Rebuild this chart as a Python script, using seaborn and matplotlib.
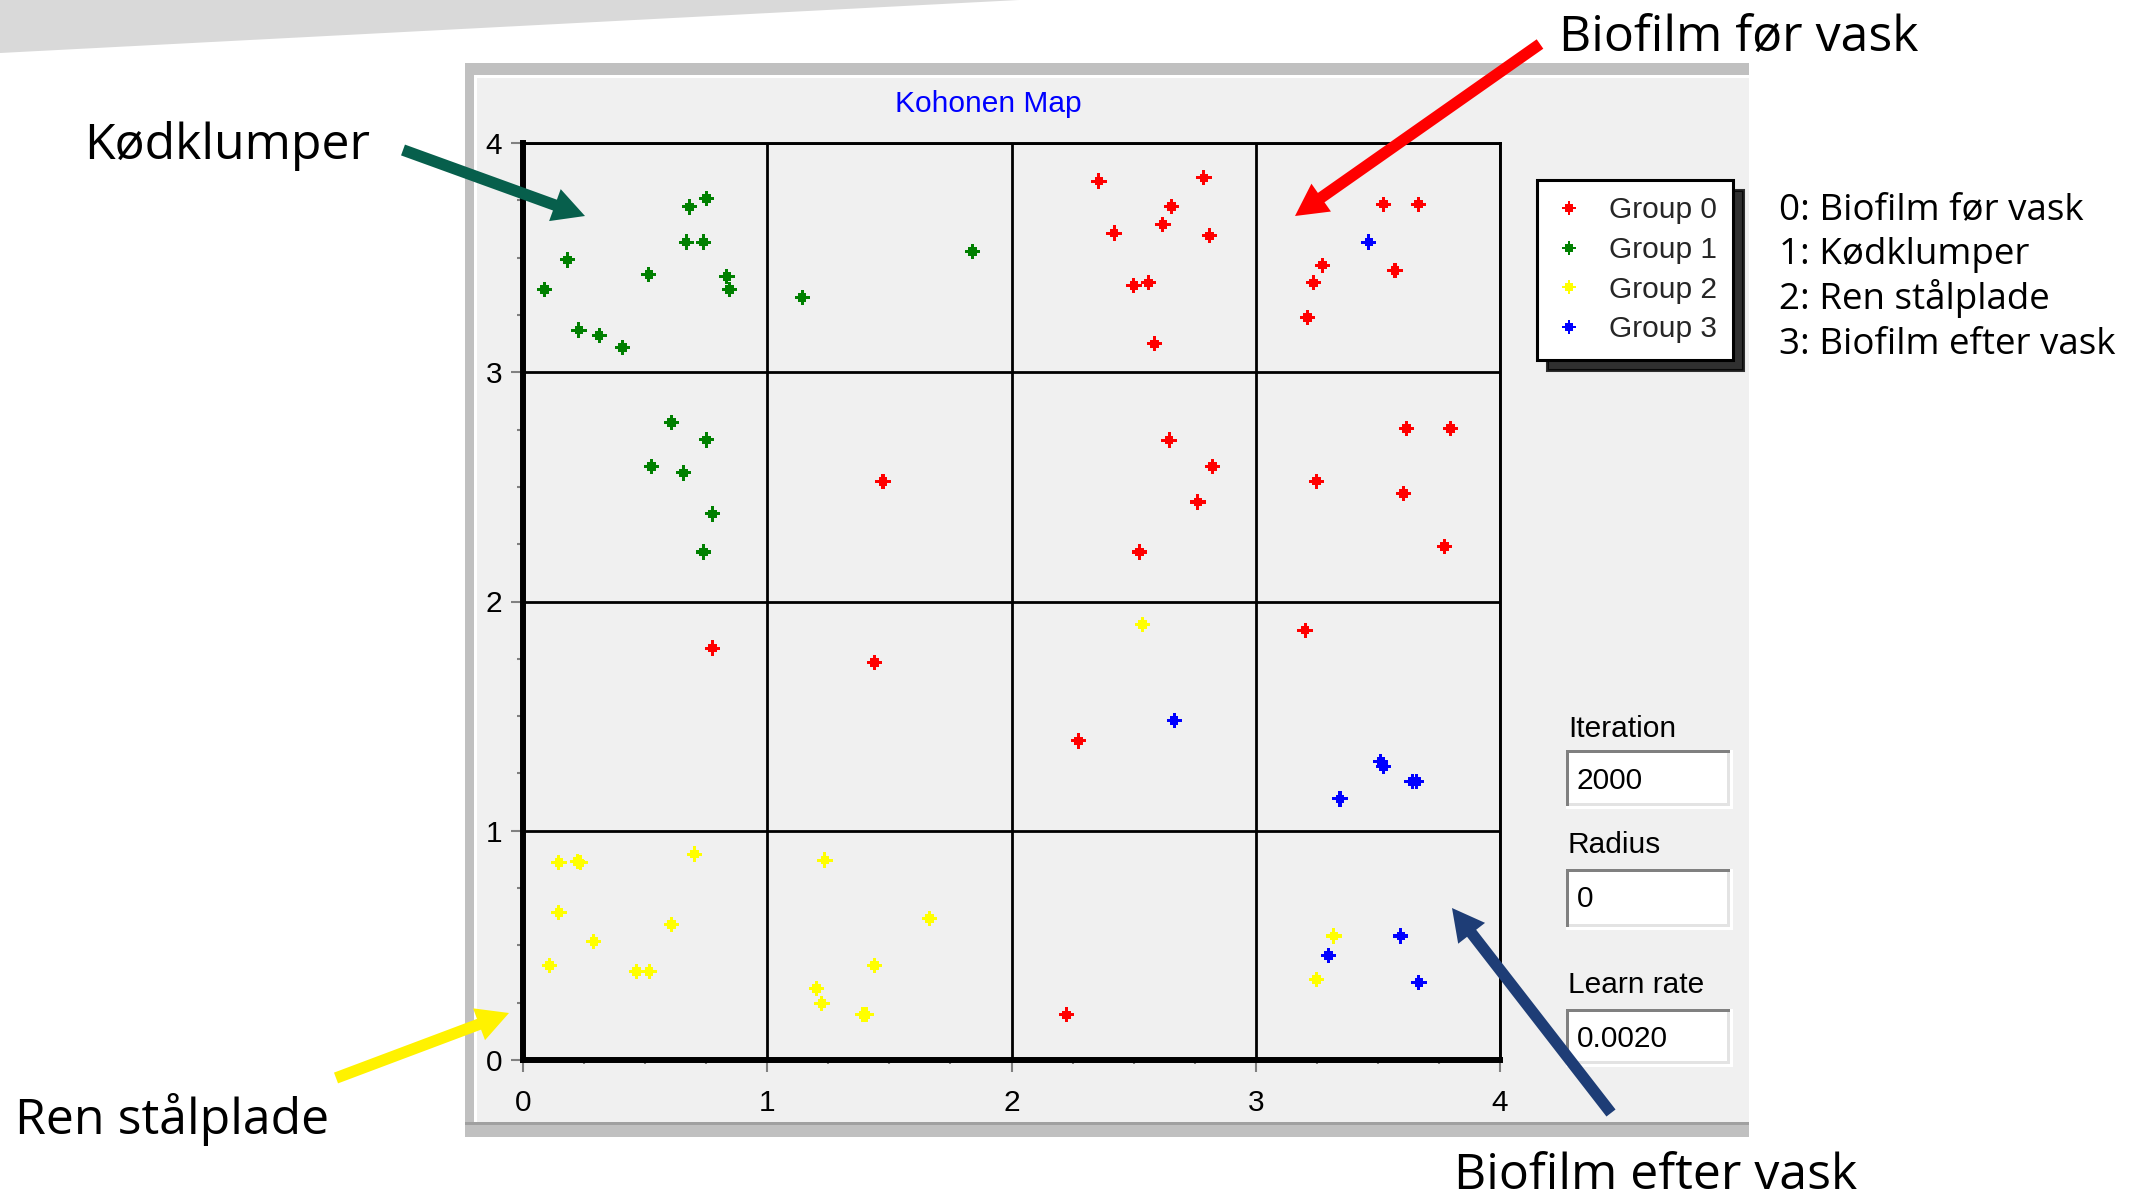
import matplotlib
matplotlib.use("Agg")
import numpy as np
import pandas as pd
import matplotlib.pyplot as plt
import seaborn as sns
from matplotlib.patches import Polygon, Rectangle, FancyArrow
from matplotlib.lines import Line2D
from matplotlib.ticker import MultipleLocator, FixedLocator

# ---------------- data ----------------
group_names = ["Group 0", "Group 1", "Group 2", "Group 3"]
group_colors = ["#ff0000", "#008000", "#ffff00", "#0000ff"]
group_descriptions = ["0: Biofilm før vask", "1: Kødklumper",
                      "2: Ren stålplade", "3: Biofilm efter vask"]

group0_x = [2.358, 2.788, 2.656, 2.620, 2.420, 2.811, 2.501, 2.561, 2.585,
            3.523, 3.667, 3.273, 3.570, 3.237, 3.213,
            2.645, 2.823, 2.763, 2.525,
            3.617, 3.797, 3.249, 3.605, 3.772,
            1.474, 0.776, 1.439, 2.274, 3.202, 2.225]
group0_y = [3.834, 3.848, 3.722, 3.644, 3.607, 3.595, 3.379, 3.390, 3.124,
            3.733, 3.733, 3.467, 3.443, 3.390, 3.239,
            2.704, 2.588, 2.434, 2.216,
            2.754, 2.754, 2.525, 2.472, 2.241,
            2.524, 1.797, 1.734, 1.392, 1.875, 0.197]

group1_x = [0.752, 0.681, 0.668, 0.739, 0.182, 0.515, 0.835, 0.845, 0.087,
            0.229, 0.312, 0.408, 1.143, 1.841,
            0.608, 0.751, 0.526, 0.657, 0.776, 0.739]
group1_y = [3.758, 3.721, 3.568, 3.568, 3.490, 3.427, 3.417, 3.362, 3.362,
            3.184, 3.161, 3.108, 3.326, 3.527,
            2.781, 2.705, 2.588, 2.561, 2.382, 2.216]

group2_x = [0.147, 0.224, 0.234, 0.703, 0.147, 0.608, 0.290, 0.109, 0.465, 0.516,
            1.236, 1.665, 1.439, 1.201, 1.224, 1.392, 1.405,
            2.536, 3.320, 3.249]
group2_y = [0.861, 0.866, 0.860, 0.898, 0.644, 0.592, 0.516, 0.412, 0.387, 0.387,
            0.872, 0.617, 0.412, 0.311, 0.247, 0.197, 0.197,
            1.899, 0.541, 0.350]

group3_x = [3.463, 2.666, 3.512, 3.524, 3.640, 3.658, 3.345, 3.594, 3.297, 3.668]
group3_y = [3.568, 1.481, 1.302, 1.280, 1.215, 1.215, 1.139, 0.541, 0.456, 0.338]

tick_values = [0, 1, 2, 3, 4]
chart_title = "Kohonen Map"
control_labels = ["Iteration", "Radius", "Learn rate"]
control_values = ["2000", "0", "0.0020"]
callouts = ["Kødklumper", "Biofilm før vask", "Ren stålplade", "Biofilm efter vask"]

# ---------------- figure ----------------
W, H = 2131, 1200
sns.set_style("white")
plt.rcParams["font.family"] = ["Liberation Sans", "DejaVu Sans"]

fig = plt.figure(figsize=(W / 100, H / 100), dpi=100)
fig.patch.set_facecolor("white")


def fx(x):
    return x / W


def fy(y):
    return 1 - y / H


# background overlay in pixel coordinates
bg = fig.add_axes([0, 0, 1, 1], zorder=0)
bg.set_xlim(0, W)
bg.set_ylim(H, 0)
bg.axis("off")

bg.add_patch(Polygon([(0, 0), (1019, 0), (0, 53)], closed=True,
                     facecolor="#d9d9d9", edgecolor="none"))
# window panel
bg.add_patch(Rectangle((465, 63), 1284, 1074, facecolor="#c0c0c0", edgecolor="none"))
bg.add_patch(Rectangle((474, 75), 1275, 1047, facecolor="white", edgecolor="none"))
bg.add_patch(Rectangle((477, 78), 1272, 1044, facecolor="#f0f0f0", edgecolor="none"))
bg.add_patch(Rectangle((465, 1122), 1284, 3, facecolor="#a0a0a0", edgecolor="none"))

# edit controls
label_base = [737, 853, 993]
boxes = [(750, 806), (869, 927), (1009, 1064)]
value_base = [789, 907, 1047]
for lab, val, lb, (y0, y1), vb in zip(control_labels, control_values,
                                      label_base, boxes, value_base):
    bx0, bx1 = 1566, 1730
    bg.add_patch(Rectangle((bx0, y0), bx1 - bx0 + 3, y1 - y0 + 3,
                           facecolor="white", edgecolor="none"))
    bg.add_patch(Rectangle((bx0, y0), bx1 - bx0, y1 - y0,
                           facecolor="#e3e3e3", edgecolor="none"))
    bg.add_patch(Rectangle((bx0 + 3, y0 + 3), bx1 - bx0 - 6, y1 - y0 - 6,
                           facecolor="white", edgecolor="none"))
    bg.add_patch(Rectangle((bx0, y0), bx1 - bx0, 3, facecolor="#808080", edgecolor="none"))
    bg.add_patch(Rectangle((bx0, y0), 3, y1 - y0, facecolor="#808080", edgecolor="none"))
    bg.text(1568, lb, lab, fontsize=21.5, family="Liberation Sans",
            ha="left", va="baseline", color="black")
    bg.text(1577, vb, val, fontsize=21.5, family="Liberation Sans",
            ha="left", va="baseline", color="black")

# ---------------- main chart ----------------
ax = fig.add_axes([fx(523), fy(1060), (1500 - 523) / W, (1060 - 143) / H], zorder=2)
ax.set_facecolor("#f0f0f0")

df = pd.DataFrame({
    "x": group0_x + group1_x + group2_x + group3_x,
    "y": group0_y + group1_y + group2_y + group3_y,
    "group": ([group_names[0]] * len(group0_x) + [group_names[1]] * len(group1_x)
              + [group_names[2]] * len(group2_x) + [group_names[3]] * len(group3_x)),
})

a, c = 0.1, 0.28
plus_marker = [(a, 0.5), (a, c), (c, c), (c, a), (0.5, a), (0.5, -a), (c, -a), (c, -c),
               (a, -c), (a, -0.5), (-a, -0.5), (-a, -c), (-c, -c), (-c, -a), (-0.5, -a),
               (-0.5, a), (-c, a), (-c, c), (-a, c), (-a, 0.5), (a, 0.5)]
palette = dict(zip(group_names, group_colors))

sns.scatterplot(data=df, x="x", y="y", hue="group", hue_order=group_names,
                palette=palette, marker=plus_marker, s=121, linewidth=0,
                legend=False, ax=ax, zorder=3)

ax.set_xlim(tick_values[0], tick_values[-1])
ax.set_ylim(tick_values[0], tick_values[-1])
ax.xaxis.set_major_locator(FixedLocator(tick_values))
ax.yaxis.set_major_locator(FixedLocator(tick_values))
ax.xaxis.set_minor_locator(MultipleLocator(0.25))
ax.yaxis.set_minor_locator(MultipleLocator(0.25))
ax.set_xlabel("")
ax.set_ylabel("")
ax.set_axisbelow(True)
ax.grid(True, which="major", color="black", linewidth=2.0)
ax.grid(False, which="minor")

for side in ["left", "bottom"]:
    ax.spines[side].set_linewidth(4.3)
    ax.spines[side].set_color("black")
for side in ["top", "right"]:
    ax.spines[side].set_linewidth(2.1)
    ax.spines[side].set_color("black")

ax.tick_params(which="major", direction="out", length=8.6, width=1.5,
               color="#808080", labelsize=21.5, labelcolor="black",
               left=True, bottom=True, top=False, right=False)
ax.tick_params(axis="x", which="major", pad=12.5)
ax.tick_params(axis="y", which="major", pad=6.5)
ax.tick_params(axis="y", which="minor", direction="out", length=4.3, width=1.5,
               color="#808080", left=True, right=False)
ax.tick_params(axis="x", which="minor", direction="out", length=3.0, width=1.5,
               color="#808080", bottom=True, top=False)
for lbl in ax.get_xticklabels() + ax.get_yticklabels():
    lbl.set_family("Liberation Sans")

# legend
handles = [Line2D([], [], marker=plus_marker, linestyle="", color=col,
                  markersize=10.5, markeredgewidth=0)
           for col in group_colors]
leg = ax.legend(handles=handles, labels=group_names, loc="upper left",
                bbox_to_anchor=(fx(1537), fy(180)), bbox_transform=fig.transFigure,
                borderaxespad=0, frameon=True, fancybox=False, edgecolor="black",
                facecolor="white", framealpha=1,
                prop={"family": "Liberation Sans", "size": 21.5},
                handlelength=1.03, handletextpad=0.83, borderpad=0.55,
                labelspacing=0.39,
                shadow={"ox": 7, "oy": -7, "color": "black", "alpha": 0.8})
leg.get_frame().set_linewidth(2.2)

# title
fig.text(fx(988), fy(112), chart_title, ha="center", va="baseline",
         fontsize=21.5, color="#0000ff", family="Liberation Sans")

# group description text
desc_base = [219, 264, 309, 354]
for d, b in zip(group_descriptions, desc_base):
    fig.text(fx(1779), fy(b), d, ha="left", va="baseline", fontsize=26.5,
             family=["Open Sans", "DejaVu Sans"], color="black")

# callout texts
callout_pos = [(84, 159), (1559, 51), (15, 1134), (1454, 1189)]
for t, (px, py) in zip(callouts, callout_pos):
    fig.text(fx(px), fy(py), t, ha="left", va="baseline", fontsize=36,
             family=["Open Sans", "DejaVu Sans"], color="black")

# arrows overlay
top = fig.add_axes([0, 0, 1, 1], zorder=4)
top.set_xlim(0, W)
top.set_ylim(H, 0)
top.axis("off")
top.patch.set_alpha(0)

arrows = [((403, 150), (585, 216), "#075f4c"),
          ((1540, 44), (1295, 216), "#ff0000"),
          ((336, 1078), (509, 1013), "#fff200"),
          ((1611, 1113), (1452, 908), "#1e3d76")]
for (x0, y0), (x1, y1), col in arrows:
    top.add_patch(FancyArrow(x0, y0, x1 - x0, y1 - y0, width=11.5,
                             head_width=34, head_length=32,
                             length_includes_head=True, facecolor=col,
                             edgecolor="none"))

fig.savefig("out.png", dpi=100, facecolor="white")
